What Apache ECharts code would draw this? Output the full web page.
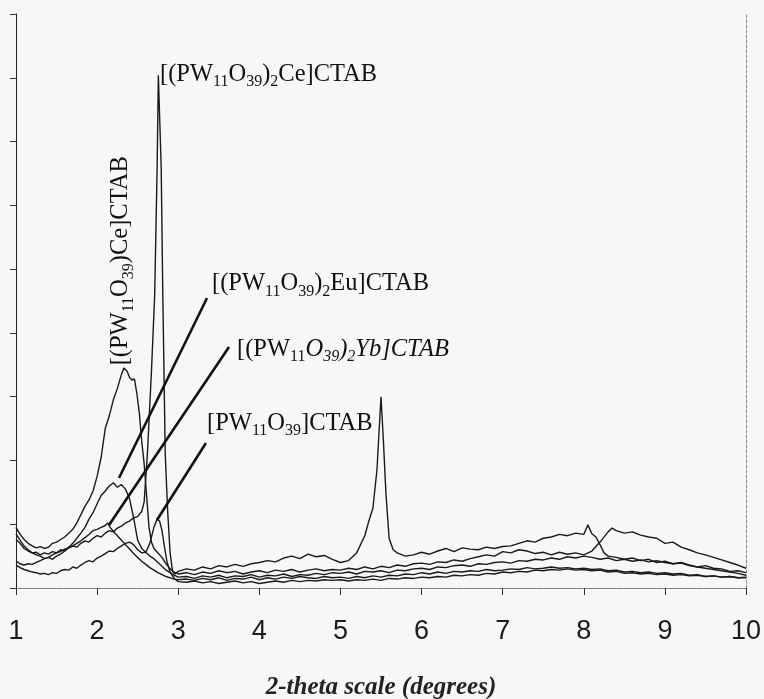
<!DOCTYPE html>
<html>
<head>
<meta charset="utf-8">
<title>XRD patterns</title>
<script src="https://cdn.jsdelivr.net/npm/echarts@6/dist/echarts.min.js"></script>
<style>
html, body { margin: 0; padding: 0; background: #f7f7f7; }
#xrdChart { width: 764px; height: 699px; }
</style>
</head>
<body>
<div id="xrdChart"></div>
<script>
// 2-theta 轴范围与刻度
const thetaRange = [1, 10];
const intensityRange = [0, 9];

// [(PW11O39)2Ce]CTAB
const ce2Pattern = [
  [1.0,0.76],[1.05,0.70],[1.1,0.62],[1.15,0.58],[1.2,0.55],[1.25,0.56],[1.3,0.52],[1.35,0.55],[1.4,0.53],[1.45,0.57],
  [1.5,0.55],[1.55,0.60],[1.6,0.58],[1.65,0.63],[1.7,0.66],[1.75,0.64],[1.8,0.70],[1.85,0.74],[1.9,0.72],[1.95,0.78],
  [2.0,0.82],[2.05,0.80],[2.1,0.86],[2.15,0.90],[2.2,0.88],[2.25,0.94],[2.3,0.97],[2.35,1.02],[2.4,1.05],[2.45,1.10],
  [2.5,1.12],[2.55,1.20],[2.58,1.35],[2.62,2.1],[2.67,3.4],[2.71,4.6],[2.74,6.6],[2.755,8.04],[2.79,6.6],[2.81,4.6],
  [2.84,2.1],[2.87,1.2],[2.9,0.55],[2.93,0.26],[2.96,0.22],[3.0,0.26],[3.1,0.30],[3.2,0.28],[3.3,0.33],[3.4,0.30],
  [3.5,0.35],[3.6,0.33],[3.7,0.37],[3.8,0.34],[3.9,0.38],[4.0,0.40],[4.1,0.43],[4.2,0.41],[4.3,0.47],[4.4,0.50],
  [4.5,0.46],[4.6,0.53],[4.7,0.49],[4.8,0.51],[4.9,0.45],[5.0,0.40],[5.1,0.43],[5.2,0.55],[5.3,0.82],[5.35,1.05],
  [5.4,1.25],[5.45,1.85],[5.5,3.0],[5.53,2.3],[5.56,1.5],[5.6,0.78],[5.65,0.6],[5.7,0.55],[5.8,0.50],[5.9,0.52],
  [6.0,0.56],[6.1,0.53],[6.2,0.58],[6.3,0.62],[6.4,0.57],[6.5,0.63],[6.6,0.61],[6.7,0.60],[6.8,0.64],[6.9,0.62],
  [7.0,0.65],[7.1,0.66],[7.2,0.70],[7.3,0.74],[7.4,0.72],[7.5,0.78],[7.6,0.80],[7.7,0.84],[7.8,0.82],[7.9,0.86],
  [8.0,0.84],[8.05,0.99],[8.1,0.85],[8.15,0.80],[8.2,0.68],[8.25,0.55],[8.3,0.50],[8.4,0.48],[8.5,0.45],[8.6,0.47],
  [8.7,0.43],[8.8,0.45],[8.9,0.40],[9.0,0.42],[9.1,0.38],[9.2,0.40],[9.3,0.36],[9.4,0.33],[9.5,0.35],[9.6,0.31],
  [9.7,0.30],[9.8,0.26],[9.9,0.27],[10.0,0.24]
];

// [(PW11O39)Ce]CTAB
const ce1Pattern = [
  [1.0,0.95],[1.05,0.84],[1.1,0.76],[1.15,0.70],[1.2,0.66],[1.25,0.63],[1.3,0.65],[1.35,0.62],[1.4,0.64],[1.45,0.70],
  [1.5,0.72],[1.55,0.76],[1.6,0.80],[1.65,0.86],[1.7,0.92],[1.75,1.02],[1.8,1.15],[1.85,1.28],[1.9,1.38],[1.95,1.52],
  [2.0,1.75],[2.05,2.05],[2.1,2.50],[2.15,2.70],[2.2,2.95],[2.25,3.13],[2.3,3.35],[2.33,3.45],[2.37,3.40],[2.4,3.30],
  [2.43,3.26],[2.46,3.28],[2.49,3.05],[2.52,2.75],[2.55,2.30],[2.58,1.95],[2.61,1.45],[2.64,0.95],[2.67,0.72],[2.7,0.62],
  [2.75,0.55],[2.8,0.48],[2.85,0.38],[2.9,0.30],[2.95,0.25],[3.0,0.22],[3.1,0.24],[3.2,0.21],[3.3,0.25],[3.4,0.23],
  [3.5,0.27],[3.6,0.24],[3.7,0.26],[3.8,0.22],[3.9,0.25],[4.0,0.27],[4.1,0.24],[4.2,0.28],[4.3,0.26],[4.4,0.29],
  [4.5,0.25],[4.6,0.28],[4.7,0.30],[4.8,0.27],[4.9,0.29],[5.0,0.28],[5.1,0.31],[5.2,0.29],[5.3,0.33],[5.4,0.30],
  [5.5,0.34],[5.6,0.32],[5.7,0.36],[5.8,0.34],[5.9,0.38],[6.0,0.39],[6.1,0.37],[6.2,0.41],[6.3,0.40],[6.4,0.44],
  [6.5,0.42],[6.6,0.46],[6.7,0.49],[6.8,0.52],[6.9,0.50],[7.0,0.57],[7.1,0.55],[7.2,0.60],[7.3,0.58],[7.4,0.54],
  [7.5,0.56],[7.6,0.52],[7.7,0.56],[7.8,0.53],[7.9,0.55],[8.0,0.52],[8.1,0.58],[8.2,0.72],[8.3,0.88],[8.35,0.94],
  [8.4,0.90],[8.5,0.86],[8.6,0.88],[8.7,0.83],[8.8,0.80],[8.9,0.78],[9.0,0.70],[9.1,0.72],[9.2,0.64],[9.3,0.60],
  [9.4,0.55],[9.5,0.52],[9.6,0.48],[9.7,0.44],[9.8,0.40],[9.9,0.36],[10.0,0.31]
];

// [(PW11O39)2Eu]CTAB
const euPattern = [
  [1.0,0.85],[1.05,0.75],[1.1,0.66],[1.15,0.60],[1.2,0.55],[1.25,0.52],[1.3,0.50],[1.35,0.46],[1.4,0.48],[1.45,0.45],
  [1.5,0.50],[1.55,0.53],[1.6,0.58],[1.65,0.64],[1.7,0.70],[1.75,0.78],[1.8,0.86],[1.85,0.95],[1.9,1.08],[1.95,1.18],
  [2.0,1.32],[2.05,1.45],[2.1,1.52],[2.15,1.60],[2.2,1.65],[2.25,1.58],[2.3,1.62],[2.35,1.55],[2.4,1.40],[2.45,1.10],
  [2.5,0.75],[2.55,0.62],[2.6,0.56],[2.65,0.50],[2.7,0.46],[2.75,0.40],[2.8,0.34],[2.85,0.28],[2.9,0.24],[2.95,0.20],
  [3.0,0.17],[3.1,0.18],[3.2,0.15],[3.3,0.19],[3.4,0.17],[3.5,0.20],[3.6,0.16],[3.7,0.19],[3.8,0.18],[3.9,0.21],
  [4.0,0.17],[4.1,0.20],[4.2,0.19],[4.3,0.22],[4.4,0.18],[4.5,0.21],[4.6,0.20],[4.7,0.23],[4.8,0.21],[4.9,0.24],
  [5.0,0.23],[5.1,0.25],[5.2,0.22],[5.3,0.26],[5.4,0.25],[5.5,0.27],[5.6,0.24],[5.7,0.28],[5.8,0.27],[5.9,0.30],
  [6.0,0.31],[6.1,0.29],[6.2,0.33],[6.3,0.32],[6.4,0.35],[6.5,0.36],[6.6,0.34],[6.7,0.38],[6.8,0.37],[6.9,0.40],
  [7.0,0.41],[7.1,0.39],[7.2,0.43],[7.3,0.42],[7.4,0.45],[7.5,0.44],[7.6,0.47],[7.7,0.45],[7.8,0.49],[7.9,0.47],
  [8.0,0.50],[8.1,0.48],[8.2,0.45],[8.3,0.47],[8.4,0.43],[8.5,0.45],[8.6,0.42],[8.7,0.44],[8.8,0.41],[8.9,0.43],
  [9.0,0.40],[9.1,0.38],[9.2,0.39],[9.3,0.35],[9.4,0.33],[9.5,0.31],[9.6,0.29],[9.7,0.27],[9.8,0.25],[9.9,0.23],
  [10.0,0.20]
];

// [(PW11O39)2Yb]CTAB
const ybPattern = [
  [1.0,0.42],[1.05,0.38],[1.1,0.36],[1.15,0.38],[1.2,0.37],[1.25,0.40],[1.3,0.43],[1.35,0.46],[1.4,0.48],[1.45,0.52],
  [1.5,0.55],[1.55,0.57],[1.6,0.61],[1.65,0.63],[1.7,0.66],[1.75,0.70],[1.8,0.74],[1.85,0.79],[1.9,0.84],[1.95,0.90],
  [2.0,0.92],[2.05,0.95],[2.1,0.98],[2.13,1.02],[2.16,0.95],[2.2,0.89],[2.25,0.82],[2.3,0.75],[2.35,0.68],[2.4,0.61],
  [2.45,0.54],[2.5,0.48],[2.55,0.42],[2.6,0.37],[2.65,0.32],[2.7,0.28],[2.75,0.24],[2.8,0.21],[2.85,0.18],[2.9,0.16],
  [2.95,0.14],[3.0,0.13],[3.1,0.14],[3.2,0.12],[3.3,0.15],[3.4,0.13],[3.5,0.16],[3.6,0.12],[3.7,0.15],[3.8,0.14],
  [3.9,0.17],[4.0,0.13],[4.1,0.16],[4.2,0.14],[4.3,0.17],[4.4,0.15],[4.5,0.18],[4.6,0.16],[4.7,0.15],[4.8,0.18],
  [4.9,0.16],[5.0,0.17],[5.1,0.15],[5.2,0.18],[5.3,0.16],[5.4,0.19],[5.5,0.17],[5.6,0.20],[5.7,0.19],[5.8,0.22],
  [5.9,0.21],[6.0,0.24],[6.1,0.22],[6.2,0.25],[6.3,0.23],[6.4,0.26],[6.5,0.25],[6.6,0.27],[6.7,0.26],[6.8,0.29],
  [6.9,0.27],[7.0,0.28],[7.1,0.30],[7.2,0.29],[7.3,0.32],[7.4,0.30],[7.5,0.31],[7.6,0.33],[7.7,0.31],[7.8,0.32],
  [7.9,0.30],[8.0,0.31],[8.1,0.29],[8.2,0.30],[8.3,0.27],[8.4,0.28],[8.5,0.25],[8.6,0.26],[8.7,0.24],[8.8,0.25],
  [8.9,0.23],[9.0,0.24],[9.1,0.22],[9.2,0.23],[9.3,0.20],[9.4,0.21],[9.5,0.18],[9.6,0.19],[9.7,0.17],[9.8,0.18],
  [9.9,0.16],[10.0,0.17]
];

// [PW11O39]CTAB
const pwPattern = [
  [1.0,0.36],[1.05,0.32],[1.1,0.29],[1.15,0.27],[1.2,0.25],[1.25,0.24],[1.3,0.22],[1.35,0.23],[1.4,0.21],[1.45,0.24],
  [1.5,0.23],[1.55,0.27],[1.6,0.29],[1.65,0.28],[1.7,0.33],[1.75,0.31],[1.8,0.36],[1.85,0.40],[1.9,0.43],[1.95,0.41],
  [2.0,0.47],[2.05,0.50],[2.1,0.54],[2.15,0.58],[2.2,0.57],[2.25,0.62],[2.3,0.66],[2.35,0.70],[2.4,0.72],[2.45,0.68],
  [2.5,0.60],[2.55,0.55],[2.6,0.56],[2.65,0.70],[2.7,0.95],[2.74,1.08],[2.77,1.05],[2.8,0.90],[2.83,0.65],[2.86,0.42],
  [2.9,0.25],[2.95,0.15],[3.0,0.10],[3.1,0.09],[3.2,0.11],[3.3,0.08],[3.4,0.10],[3.5,0.07],[3.6,0.09],[3.7,0.11],
  [3.8,0.08],[3.9,0.10],[4.0,0.07],[4.1,0.09],[4.2,0.11],[4.3,0.09],[4.4,0.12],[4.5,0.10],[4.6,0.12],[4.7,0.11],
  [4.8,0.13],[4.9,0.12],[5.0,0.13],[5.1,0.11],[5.2,0.13],[5.3,0.12],[5.4,0.14],[5.5,0.12],[5.6,0.15],[5.7,0.14],
  [5.8,0.16],[5.9,0.15],[6.0,0.17],[6.1,0.16],[6.2,0.18],[6.3,0.17],[6.4,0.20],[6.5,0.19],[6.6,0.21],[6.7,0.20],
  [6.8,0.23],[6.9,0.22],[7.0,0.25],[7.1,0.24],[7.2,0.26],[7.3,0.25],[7.4,0.28],[7.5,0.27],[7.6,0.29],[7.7,0.28],
  [7.8,0.30],[7.9,0.28],[8.0,0.29],[8.1,0.27],[8.2,0.28],[8.3,0.25],[8.4,0.26],[8.5,0.23],[8.6,0.24],[8.7,0.22],
  [8.8,0.23],[8.9,0.21],[9.0,0.22],[9.1,0.20],[9.2,0.21],[9.3,0.19],[9.4,0.20],[9.5,0.18],[9.6,0.19],[9.7,0.17],
  [9.8,0.18],[9.9,0.16],[10.0,0.16]
];

const sampleNames = [
  "[(PW11O39)2Ce]CTAB",
  "[(PW11O39)Ce]CTAB",
  "[(PW11O39)2Eu]CTAB",
  "[(PW11O39)2Yb]CTAB",
  "[PW11O39]CTAB"
];
const samplePatterns = [ce2Pattern, ce1Pattern, euPattern, ybPattern, pwPattern];

let chart = echarts.init(document.getElementById("xrdChart"));

// 公用的文字样式（下标用小字号往下压）
const formulaRich = {
  n: { fontFamily: "Liberation Serif", fontSize: 24.5, lineHeight: 27, verticalAlign: "top", fill: "#111" },
  s: { fontFamily: "Liberation Serif", fontSize: 16, lineHeight: 16, padding: [12, 0, 0, 0], verticalAlign: "top", fill: "#111" },
  i: { fontFamily: "Liberation Serif", fontStyle: "italic", fontSize: 24.5, lineHeight: 27, verticalAlign: "top", fill: "#111" },
  si: { fontFamily: "Liberation Serif", fontStyle: "italic", fontSize: 16, lineHeight: 16, padding: [12, 0, 0, 0], verticalAlign: "top", fill: "#111" }
};

chart.setOption({
  animation: false,
  backgroundColor: "#f7f7f7",
  // outerBoundsMode 关掉，不让 v6 自动压缩绘图区
  grid: { left: 16, right: 18, top: 14, bottom: 111, outerBoundsMode: "none", containLabel: false },
  xAxis: [
    {
      type: "value",
      min: thetaRange[0],
      max: thetaRange[1],
      interval: 1,
      axisLine: { lineStyle: { color: "#6a6a6a", width: 1 } },
      axisTick: { length: 7, lineStyle: { color: "#333" } },
      axisLabel: {
        margin: 30,
        fontSize: 27,
        fontFamily: "Liberation Sans",
        color: "#1a1a1a",
        showMinLabel: true,
        showMaxLabel: true
      },
      splitLine: { show: false },
      name: "2-theta scale (degrees)",
      nameLocation: "middle",
      nameGap: 87,
      nameTextStyle: {
        fontFamily: "Liberation Serif",
        fontStyle: "italic",
        fontWeight: "bold",
        fontSize: 25,
        color: "#222"
      }
    },
    {
      // 上边框（虚线）
      type: "value",
      position: "top",
      min: thetaRange[0],
      max: thetaRange[1],
      axisLine: { show: true, lineStyle: { color: "#8a8a8a", type: [3, 2], width: 1 } },
      axisTick: { show: false },
      axisLabel: { show: false },
      splitLine: { show: false }
    }
  ],
  yAxis: [
    {
      type: "value",
      min: intensityRange[0],
      max: intensityRange[1],
      interval: 1,
      axisLine: { show: true, lineStyle: { color: "#222", width: 1 } },
      axisTick: { show: true, length: 6, lineStyle: { color: "#333" } },
      axisLabel: { show: false },
      splitLine: { show: false }
    },
    {
      // 右边框（虚线）
      type: "value",
      position: "right",
      min: intensityRange[0],
      max: intensityRange[1],
      axisLine: { show: true, lineStyle: { color: "#8a8a8a", type: [3, 2], width: 1 } },
      axisTick: { show: false },
      axisLabel: { show: false },
      splitLine: { show: false }
    }
  ],
  series: samplePatterns.map((pattern, idx) => ({
    name: sampleNames[idx],
    type: "line",
    data: pattern,
    showSymbol: false,
    symbol: "none",
    lineStyle: { color: "#1a1a1a", width: 1.4 },
    z: 2
  }))
});

// 标注：文字与引线的位置按数据坐标换算
const toPx = p => chart.convertToPixel({ seriesIndex: 0 }, p);

function leader(from, to) {
  const a = toPx(from);
  const b = toPx(to);
  return {
    type: "line",
    shape: { x1: a[0], y1: a[1], x2: b[0], y2: b[1] },
    style: { stroke: "#121212", lineWidth: 2.6 },
    z: 10
  };
}

function label(text, at, rotate) {
  const p = toPx(at);
  return {
    type: "text",
    x: p[0],
    y: p[1],
    rotation: rotate ? Math.PI / 2 : 0,
    style: {
      text: text,
      rich: formulaRich,
      align: rotate ? "center" : "left",
      verticalAlign: "middle"
    },
    z: 10
  };
}

chart.setOption({
  graphic: [
    label("{n|[(PW}{s|11}{n|O}{s|39}{n|)}{s|2}{n|Ce]CTAB}", [2.775, 8.04], false),
    label("{n|[(PW}{s|11}{n|O}{s|39}{n|)Ce]CTAB}", [2.305, 5.13], true),
    label("{n|[(PW}{s|11}{n|O}{s|39}{n|)}{s|2}{n|Eu]CTAB}", [3.417, 4.75], false),
    label("{n|[(PW}{s|11}{i|O}{si|39}{i|)}{si|2}{i|Yb]CTAB}", [3.725, 3.73], false),
    label("{n|[PW}{s|11}{n|O}{s|39}{n|]CTAB}", [3.355, 2.57], false),
    leader([3.355, 4.547], [2.27, 1.725]),
    leader([3.626, 3.779], [2.147, 0.988]),
    leader([3.342, 2.273], [2.738, 1.066])
  ]
});
</script>
</body>
</html>
